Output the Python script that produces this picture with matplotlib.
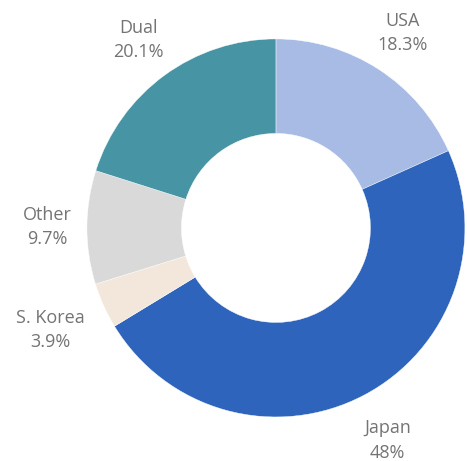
import matplotlib.pyplot as plt

# data (clockwise from 12 o'clock)
labels = ["USA", "Japan", "S. Korea", "Other", "Dual"]
shares = [18.3, 48, 3.9, 9.7, 20.1]
share_text = ["18.3%", "48%", "3.9%", "9.7%", "20.1%"]
colors = ["#a8bbe5", "#2e64bb", "#f2e7da", "#d9d9d9", "#4694a4"]

plt.rcParams['font.family'] = ['Open Sans', 'DejaVu Sans']

fig = plt.figure(figsize=(4.67, 4.61), dpi=100)
ax = fig.add_axes([0, 0, 1, 1])

wedges, texts = ax.pie(
    shares,
    labels=[f"{l}\n{s}" for l, s in zip(labels, share_text)],
    colors=colors,
    startangle=90,
    counterclock=False,
    radius=1,
    labeldistance=1.24,
    wedgeprops=dict(width=0.5, edgecolor="white", linewidth=0.3),
    textprops=dict(fontsize=13, color="#747474", linespacing=1.45),
)
# nudge each label along its own radius like the reference
label_dist = [1.23, 1.27, 1.31, 1.21, 1.23]
for t, d in zip(texts, label_dist):
    x, y = t.get_position()
    t.set_position((x * d / 1.24, y * d / 1.24))
    t.set_horizontalalignment("center")
    t.set_verticalalignment("center")

# place the donut like the reference (radius ~189 px, centre at 276,228)
ax.set_xlim(-1.460, 1.011)
ax.set_ylim(-1.233, 1.206)
ax.set_aspect("auto")
ax.axis("off")

fig.savefig("out.png", dpi=100)
